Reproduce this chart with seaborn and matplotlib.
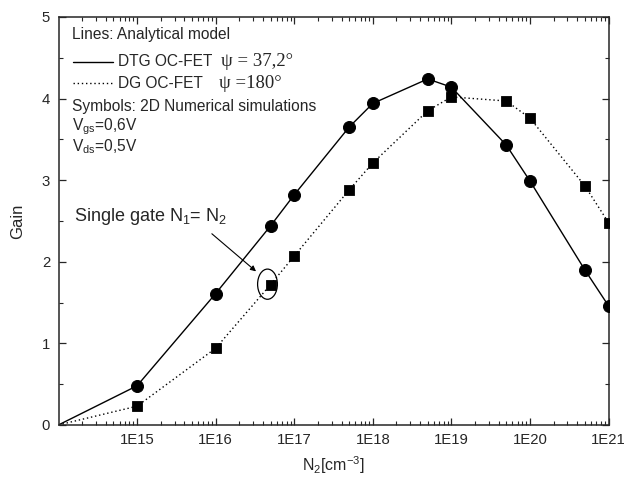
import numpy as np
import pandas as pd
import matplotlib.pyplot as plt
import seaborn as sns
from matplotlib.patches import Ellipse
from matplotlib.ticker import FixedLocator, LogLocator, MultipleLocator, NullFormatter

# N2 doping levels [cm^-3]
n2 = [1e14, 1e15, 1e16, 5e16, 1e17, 5e17, 1e18, 5e18, 1e19, 5e19, 1e20, 5e20, 1e21]
# DTG OC-FET (psi = 37,2 deg)
gain_dtg = [0.0, 0.48, 1.61, 2.44, 2.82, 3.65, 3.94, 4.24, 4.14, 3.43, 2.99, 1.90, 1.46]
# DG OC-FET (psi = 180 deg)
gain_dg = [0.0, 0.23, 0.94, 1.72, 2.07, 2.88, 3.21, 3.85, 4.02, 3.97, 3.76, 2.93, 2.48]

x_ticks = [1e15, 1e16, 1e17, 1e18, 1e19, 1e20, 1e21]
x_tick_labels = ["1E15", "1E16", "1E17", "1E18", "1E19", "1E20", "1E21"]

sns.set_style("ticks")
plt.rcParams['font.family'] = ['Liberation Sans', 'DejaVu Sans']
plt.rcParams['mathtext.fontset'] = 'custom'
plt.rcParams['mathtext.rm'] = 'Liberation Sans'
plt.rcParams['mathtext.it'] = 'Liberation Sans:italic'

df = pd.DataFrame({"N2": n2, "DTG": gain_dtg, "DG": gain_dg})
sim = df[df["N2"] > 1e14]

fig = plt.figure(figsize=(6.25, 4.84), dpi=100)
ax = fig.add_axes([0.0936, 0.122, 0.880, 0.843])

# analytical model lines
sns.lineplot(data=df, x="N2", y="DTG", color="black", lw=1.0, ax=ax)
sns.lineplot(data=df, x="N2", y="DG", color="black", lw=1.0, ls=(0, (1, 2)), ax=ax)
# 2D numerical simulation symbols
sns.scatterplot(data=sim, x="N2", y="DTG", marker="o", s=75, color="black",
                edgecolor="black", ax=ax, zorder=3)
sns.scatterplot(data=sim, x="N2", y="DG", marker="s", s=55, color="black",
                edgecolor="black", ax=ax, zorder=3)

ax.set_xscale("log")
ax.set_xlim(1e14, 1e21)
ax.set_ylim(0, 5)
ax.xaxis.set_major_locator(FixedLocator(x_ticks))
ax.set_xticklabels(x_tick_labels)
ax.xaxis.set_minor_locator(LogLocator(base=10, subs=np.arange(2, 10)))
ax.xaxis.set_minor_formatter(NullFormatter())
ax.yaxis.set_major_locator(MultipleLocator(1))
ax.yaxis.set_minor_locator(MultipleLocator(0.5))
ax.tick_params(which="both", direction="in", top=True, right=True, labelsize=10.7)
ax.tick_params(which="major", length=5, width=0.9)
ax.tick_params(which="minor", length=3, width=0.8)
ax.tick_params(axis="x", which="major", pad=6)
ax.tick_params(axis="y", which="major", pad=6)
for sp in ax.spines.values():
    sp.set_linewidth(1.1)

ax.set_xlabel(r"N$_2$[cm$^{-3}$]", fontsize=11.5, labelpad=5)
ax.set_ylabel("Gain", fontsize=12, labelpad=12)

# legend block
serif = ['Liberation Serif', 'DejaVu Serif']
ax.text(0.025, 0.956, "Lines: Analytical model", transform=ax.transAxes,
        fontsize=11.2, va="center")
ax.plot([0.026, 0.099], [0.890, 0.890], color="black", lw=1.0, transform=ax.transAxes)
ax.text(0.108, 0.890, "DTG OC-FET", transform=ax.transAxes, fontsize=11.2, va="center")
ax.text(0.295, 0.890, "ψ = 37,2°", transform=ax.transAxes, fontsize=13.5, va="center",
        family=serif)
ax.plot([0.026, 0.099], [0.838, 0.838], color="black", lw=1.0, ls=(0, (1, 2)),
        transform=ax.transAxes)
ax.text(0.108, 0.838, "DG OC-FET", transform=ax.transAxes, fontsize=11.2, va="center")
ax.text(0.292, 0.838, "ψ =180°", transform=ax.transAxes, fontsize=13.5, va="center",
        family=serif)
ax.text(0.025, 0.780, "Symbols: 2D Numerical simulations", transform=ax.transAxes,
        fontsize=11.2, va="center")
ax.text(0.025, 0.731, r"V$_{\mathregular{gs}}$=0,6V", transform=ax.transAxes,
        fontsize=11.2, va="center")
ax.text(0.025, 0.682, r"V$_{\mathregular{ds}}$=0,5V", transform=ax.transAxes,
        fontsize=11.2, va="center")

# single gate annotation
ax.add_patch(Ellipse((0.380, 0.345), 0.036, 0.074, transform=ax.transAxes,
                     fill=False, edgecolor="black", lw=0.9))
ax.annotate("", xy=(0.363, 0.372), xytext=(0.275, 0.473),
            xycoords="axes fraction", textcoords="axes fraction",
            arrowprops=dict(arrowstyle="-|>", color="black", lw=0.8, mutation_scale=8))
ax.text(0.028, 0.512, r"Single gate N$_1$= N$_2$", transform=ax.transAxes,
        fontsize=13, va="center")

fig.savefig("out.png", dpi=100)
